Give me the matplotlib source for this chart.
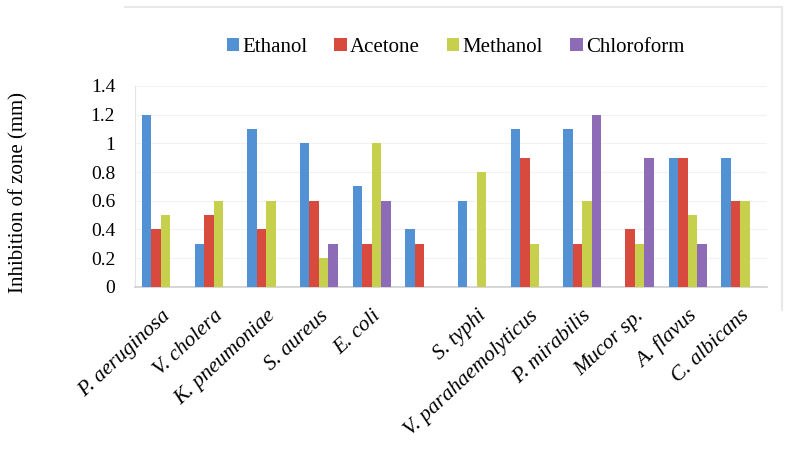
import numpy as np
import matplotlib
matplotlib.use('Agg')
import matplotlib.pyplot as plt
from matplotlib.lines import Line2D

plt.rcParams['font.family'] = ['Liberation Serif', 'DejaVu Serif']

# 数据
organisms = ['P. aeruginosa', 'V. cholera', 'K. pneumoniae', 'S. aureus', 'E. coli', '',
             'S. typhi', 'V. parahaemolyticus', 'P. mirabilis', 'Mucor sp.', 'A. flavus', 'C. albicans']
solvents = ['Ethanol', 'Acetone', 'Methanol', 'Chloroform']
ethanol = [1.2, 0.3, 1.1, 1.0, 0.7, 0.4, 0.6, 1.1, 1.1, 0.0, 0.9, 0.9]
acetone = [0.4, 0.5, 0.4, 0.6, 0.3, 0.3, 0.0, 0.9, 0.3, 0.4, 0.9, 0.6]
methanol = [0.5, 0.6, 0.6, 0.2, 1.0, 0.0, 0.8, 0.3, 0.6, 0.3, 0.5, 0.6]
chloroform = [0.0, 0.0, 0.0, 0.3, 0.6, 0.0, 0.0, 0.0, 1.2, 0.9, 0.3, 0.0]
yticks = [0, 0.2, 0.4, 0.6, 0.8, 1, 1.2, 1.4]

colors = ['#5292d4', '#d84a3e', '#c6d04c', '#8e6bb6']
series = [ethanol, acetone, methanol, chloroform]

fig = plt.figure(figsize=(7.89, 4.62), dpi=100)
ax = fig.add_axes([0.1706, 0.379, 0.801, 0.435])

x = np.arange(len(organisms))
w = 0.18
for i, (vals, c, name) in enumerate(zip(series, colors, solvents)):
    ax.bar(x + (i - 1.5) * w, vals, width=w, color=c, label=name, zorder=3)

ax.set_xlim(-0.5, len(organisms) - 0.5)
ax.set_ylim(0, 1.4)
ax.set_yticks(yticks)
ax.set_yticklabels([f'{t:g}' for t in yticks], fontsize=14)
ax.yaxis.grid(True, color='#f2f2f2', linewidth=0.8, zorder=0)
ax.set_xticks(x)
ax.set_xticklabels(organisms, rotation=43, ha='right', rotation_mode='anchor',
                   fontsize=15.5, style='italic')
ax.tick_params(axis='x', length=0, pad=14)
ax.tick_params(axis='y', length=0, pad=14)
for s in ['top', 'right']:
    ax.spines[s].set_visible(False)
ax.spines['left'].set_color('#e4e4e4')
ax.spines['bottom'].set_color('#cfcfcf')
ax.spines['bottom'].set_linewidth(1.2)
ax.set_ylabel('Inhibition of zone (mm)', fontsize=15)
ax.yaxis.set_label_coords(-0.168, 0.47)

fig.legend(loc='center', bbox_to_anchor=(0.577, 0.898), ncol=4, frameon=False,
           fontsize=15, handlelength=0.6, handleheight=0.6, handletextpad=0.15,
           columnspacing=1.3)

# 外框（浅灰）
fig.add_artist(Line2D([125 / 789, 782 / 789], [1 - 7 / 462, 1 - 7 / 462],
                      color='#e8e8e8', linewidth=1.5))
fig.add_artist(Line2D([782 / 789, 782 / 789], [1 - 7 / 462, 1 - 310 / 462],
                      color='#e8e8e8', linewidth=1.5))

fig.savefig('out.png', dpi=100)
plt.close(fig)
